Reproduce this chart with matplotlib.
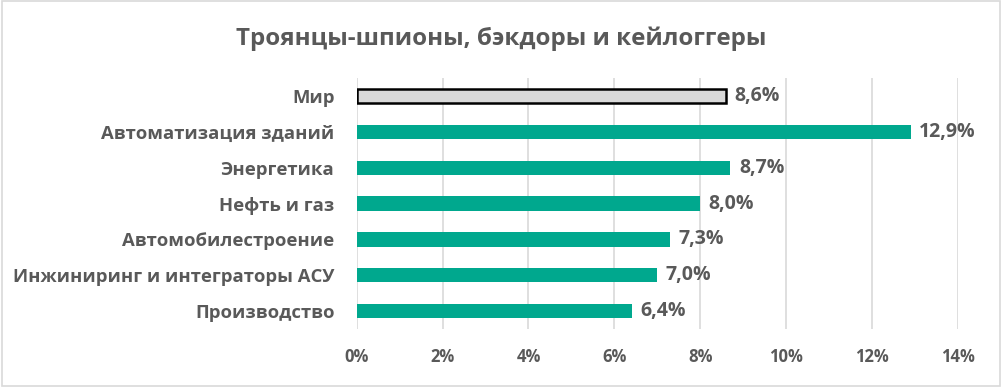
import matplotlib.pyplot as plt
from matplotlib.patches import Rectangle

# Data
categories = ["Мир", "Автоматизация зданий", "Энергетика", "Нефть и газ",
              "Автомобилестроение", "Инжиниринг и интеграторы АСУ", "Производство"]
values = [8.6, 12.9, 8.7, 8.0, 7.3, 7.0, 6.4]
ticks = [0, 2, 4, 6, 8, 10, 12, 14]

text_color = "#595959"
green = "#00A88E"

plt.rcParams["font.family"] = ["Open Sans", "DejaVu Sans"]

fig = plt.figure(figsize=(10.02, 3.87), dpi=100)
ax = fig.add_axes([0.356, 0.15, 0.6, 0.648])

# Bars, top to bottom
ypos = list(range(len(categories)))
colors = ["#D9D9D9"] + [green] * (len(categories) - 1)
edges = ["black"] + [green] * (len(categories) - 1)
widths = [1.8] + [0] * (len(categories) - 1)
ax.barh(ypos, values, height=0.4, color=colors, edgecolor=edges, linewidth=widths, zorder=3)

for y, v in zip(ypos, values):
    ax.text(v + 0.2, y, f"{v:.1f}%".replace(".", ","), va="center", ha="left",
            fontsize=14, fontweight="bold", color=text_color)

ax.set_ylim(len(categories) - 0.5, -0.5)
ax.set_xlim(0, 14)
ax.set_xticks(ticks)
ax.set_xticklabels([f"{t}%" for t in ticks])
ax.set_yticks(ypos)
ax.set_yticklabels(categories)
ax.tick_params(axis="both", length=0, labelcolor=text_color)
ax.tick_params(axis="x", pad=14, labelsize=12)
ax.tick_params(axis="y", pad=16, labelsize=13.3)
for lbl in ax.get_xticklabels() + ax.get_yticklabels():
    lbl.set_fontweight("bold")

ax.grid(axis="x", color="#D9D9D9", linewidth=1.2, zorder=0)
for s in ax.spines.values():
    s.set_visible(False)

fig.text(0.5, 0.9, "Троянцы-шпионы, бэкдоры и кейлоггеры", ha="center", va="center",
         fontsize=17.4, fontweight="bold", color=text_color)

# outer border of the chart area
fig.patches.append(Rectangle((0.002, 0.003), 0.996, 0.994, transform=fig.transFigure,
                             fill=False, edgecolor="#D9D9D9", linewidth=1.2))

fig.savefig("out.png", dpi=100)
